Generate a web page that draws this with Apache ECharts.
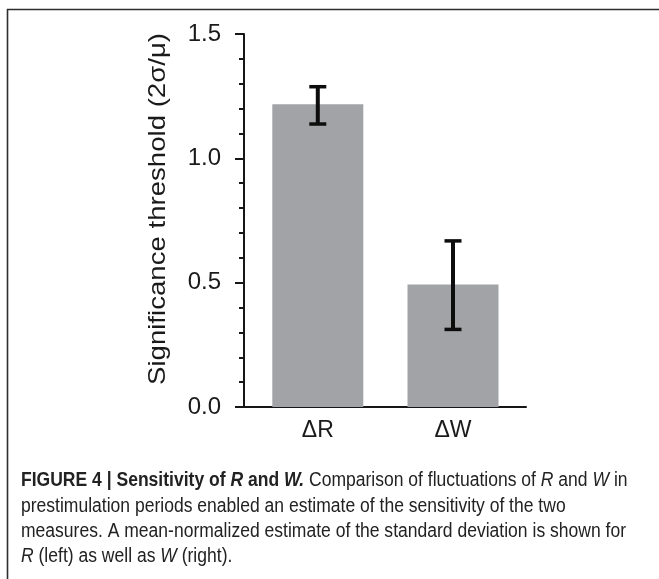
<!DOCTYPE html>
<html>
<head>
<meta charset="utf-8">
<script src="https://cdn.jsdelivr.net/npm/echarts@6/dist/echarts.min.js"></script>
<style>
  html, body { margin: 0; padding: 0; background: #fff; }
  #chart { width: 659px; height: 579px; }
</style>
</head>
<body>
<div id="chart"></div>
<script>
// Significance threshold (2σ/μ) for the two measures
const categories = ['ΔR', 'ΔW'];
const means = [1.217, 0.493];
const errLow = [1.138, 0.312];
const errHigh = [1.288, 0.668];
const yMin = 0, yMax = 1.5, yStep = 0.5;

const axisColor = '#161616';
const textColor = '#1a1a1a';
const barColor = '#a2a3a7';
const baseFont = '"Liberation Sans", Arial, Helvetica, sans-serif';

// Caption lines (rich text segments)
const captionLines = [
  '{b|FIGURE 4 | Sensitivity of }{bi|R}{b| and }{bi|W.}{n| Comparison of fluctuations of }{i|R}{n| and }{i|W}{n| in}',
  '{n|prestimulation periods enabled an estimate of the sensitivity of the two}',
  '{n|measures. A mean-normalized estimate of the standard deviation is shown for}',
  '{i|R}{n| (left) as well as }{i|W}{n| (right).}'
];
const capFontSize = 19.5;
const yName = 'Significance threshold (2σ/μ)';
const yNameSize = 24.5;

const mctx = document.createElement('canvas').getContext('2d');
function textWidth(str, size) {
  mctx.font = size + 'px ' + baseFont;
  return mctx.measureText(str).width;
}
// horizontal squeeze so the caption sets like a condensed face
const capScale = Math.min(1, 605 / textWidth('measures. A mean-normalized estimate of the standard deviation is shown for', capFontSize));
// loose tracking of the axis title
const nameScale = 352 / textWidth(yName, yNameSize);

const rich = {
  n: { fontSize: capFontSize, fontFamily: baseFont, fill: '#222' },
  i: { fontSize: capFontSize, fontFamily: baseFont, fontStyle: 'italic', fill: '#222' },
  b: { fontSize: capFontSize, fontFamily: baseFont, fontWeight: 'bold', fill: '#222' },
  bi: { fontSize: capFontSize, fontFamily: baseFont, fontWeight: 'bold', fontStyle: 'italic', fill: '#222' }
};
const capY = [481, 506.5, 532, 557];

const chart = echarts.init(document.getElementById('chart'), null, { renderer: 'canvas' });

const graphics = [
  { type: 'line', shape: { x1: 7, y1: 9.5, x2: 659, y2: 9.5 }, style: { stroke: '#2e2e2e', lineWidth: 1.6 } },
  { type: 'line', shape: { x1: 7.5, y1: 9, x2: 7.5, y2: 579 }, style: { stroke: '#2e2e2e', lineWidth: 1.6 } },
  {
    type: 'text', x: 158, y: 209, rotation: Math.PI / 2, scaleX: nameScale,
    style: { text: yName, fontSize: yNameSize, fontFamily: baseFont, fill: textColor, align: 'center', verticalAlign: 'middle' }
  }
];
captionLines.forEach((t, k) => {
  graphics.push({
    type: 'text', x: 21, y: capY[k], scaleX: capScale,
    style: { text: t, rich: rich, fontSize: capFontSize, fontFamily: baseFont, fill: '#222', align: 'left', verticalAlign: 'middle' }
  });
});

const option = {
  animation: false,
  backgroundColor: '#fff',
  grid: [
    { left: 244, top: 34, width: 282, height: 373 },
    { left: 250.2, top: 34, width: 270.4, height: 373 }
  ],
  xAxis: [
    {
      gridIndex: 0, type: 'category', data: categories,
      axisLine: { lineStyle: { color: axisColor, width: 2 } },
      axisTick: { show: false }, axisLabel: { show: false }, splitLine: { show: false }
    },
    {
      gridIndex: 1, type: 'category', data: categories,
      axisLine: { show: false }, axisTick: { show: false },
      axisLabel: { margin: 12, fontSize: 23, fontFamily: baseFont, color: textColor }
    }
  ],
  yAxis: [
    {
      gridIndex: 0, type: 'value', min: yMin, max: yMax, interval: yStep,
      axisLine: { show: true, lineStyle: { color: axisColor, width: 2 } },
      axisTick: { show: true, length: 9, lineStyle: { color: axisColor, width: 2 } },
      minorTick: { show: true, splitNumber: 5, length: 5, lineStyle: { color: axisColor, width: 2 } },
      axisLabel: { margin: 23, fontSize: 24, fontFamily: baseFont, color: textColor, formatter: v => v.toFixed(1) },
      splitLine: { show: false }
    },
    {
      gridIndex: 1, type: 'value', min: yMin, max: yMax, interval: yStep, show: false
    }
  ],
  series: [
    {
      type: 'bar', xAxisIndex: 1, yAxisIndex: 1, data: means, barWidth: 91,
      itemStyle: { color: barColor }
    },
    {
      type: 'custom', xAxisIndex: 1, yAxisIndex: 1,
      data: categories.map((c, k) => [k, errLow[k], errHigh[k]]),
      renderItem: (params, api) => {
        const lo = api.coord([api.value(0), api.value(1)]);
        const hi = api.coord([api.value(0), api.value(2)]);
        const half = 8.5;
        const st = { stroke: '#0d0d0d', lineWidth: 3.5 };
        return {
          type: 'group',
          children: [
            { type: 'line', shape: { x1: lo[0], y1: lo[1], x2: hi[0], y2: hi[1] }, style: Object.assign({}, st, { lineWidth: 4 }) },
            { type: 'line', shape: { x1: hi[0] - half, y1: hi[1], x2: hi[0] + half, y2: hi[1] }, style: st },
            { type: 'line', shape: { x1: lo[0] - half, y1: lo[1], x2: lo[0] + half, y2: lo[1] }, style: st }
          ]
        };
      },
      z: 5
    }
  ],
  graphic: graphics
};
chart.setOption(option);
</script>
</body>
</html>
